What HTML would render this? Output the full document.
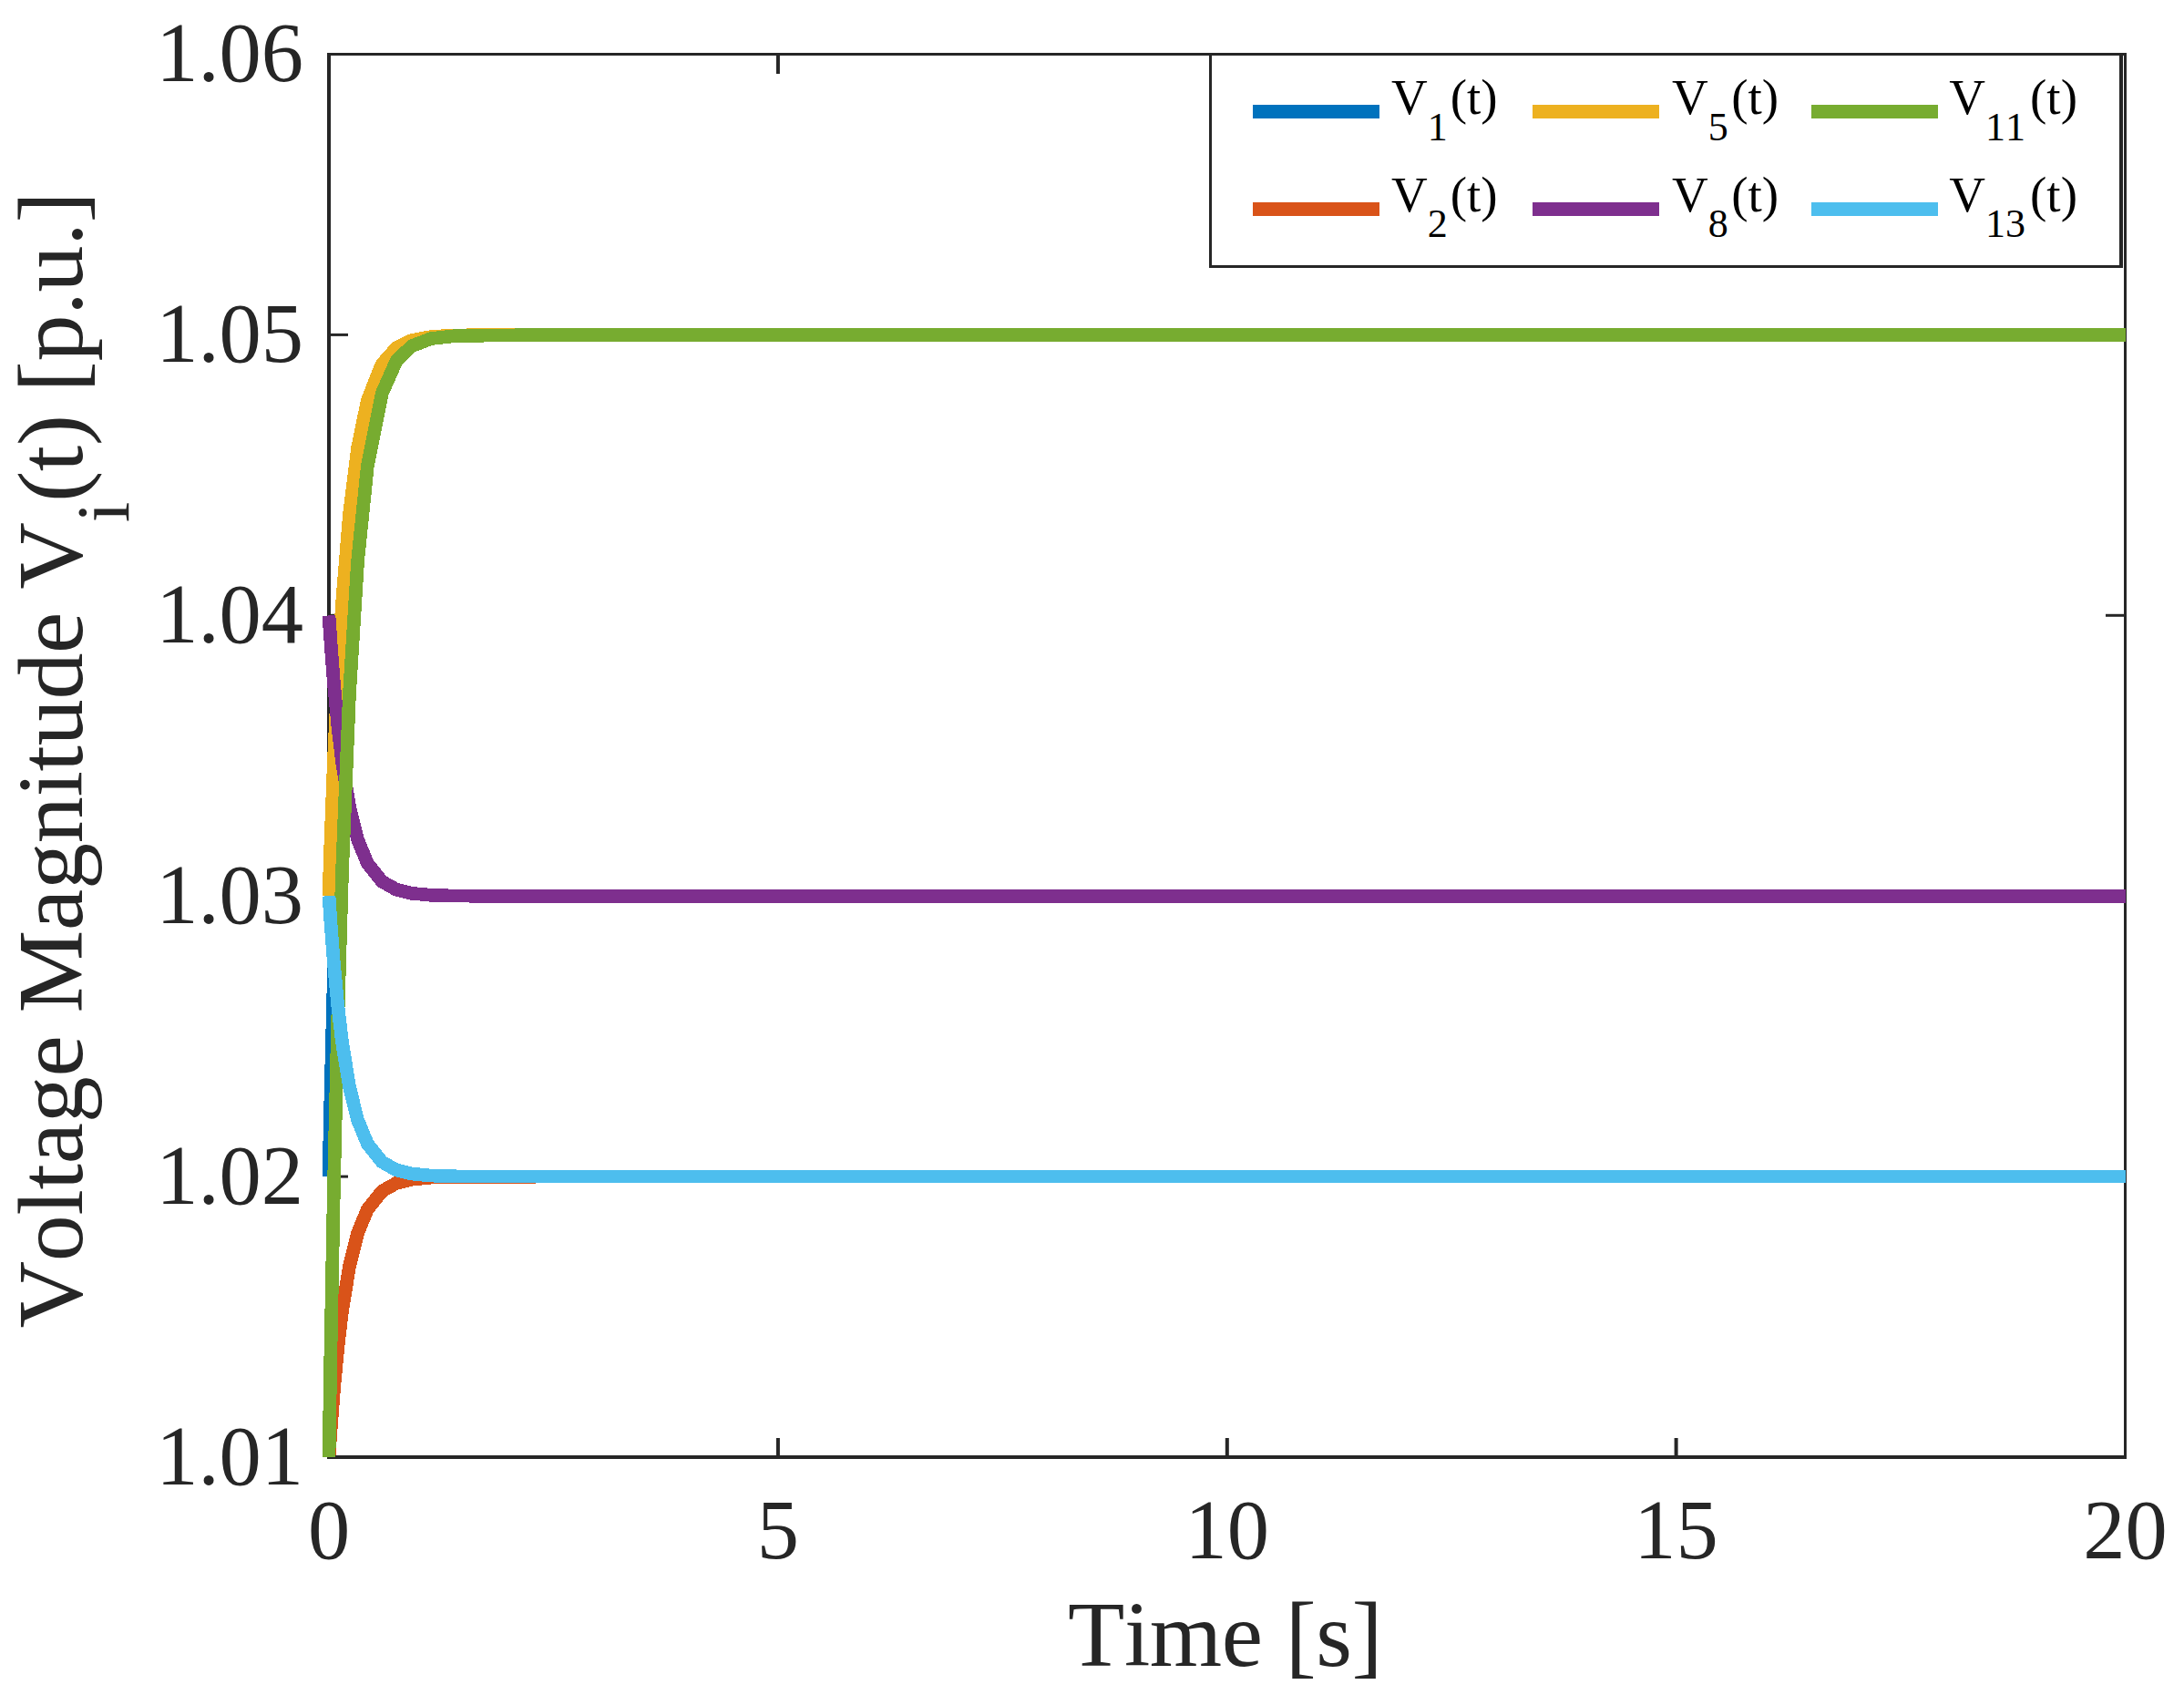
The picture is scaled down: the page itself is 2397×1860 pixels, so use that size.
<!DOCTYPE html>
<html lang="en"><head><meta charset="utf-8"><title>Voltage Magnitude</title>
<style>html,body{margin:0;padding:0;background:#fff;}svg{display:block;}text{font-family:"Liberation Serif",serif;font-kerning:none;font-variant-ligatures:none;white-space:pre;}</style></head><body>
<svg width="2397" height="1860" viewBox="0 0 2397 1860">
<rect x="0" y="0" width="2397" height="1860" fill="#ffffff"/>
<defs><clipPath id="ax"><rect x="340" y="50" width="1993" height="1550"/></clipPath></defs>
<g fill="#262626">
<rect x="359" y="58" width="4" height="1543"/>
<rect x="2331" y="58" width="3" height="1543"/>
<rect x="359" y="58" width="1975" height="3"/>
<rect x="359" y="1597" width="1975" height="4"/>
<rect x="851.9" y="1578" width="4" height="20"/>
<rect x="851.9" y="60" width="4" height="21"/>
<rect x="1344.8" y="1578" width="4" height="20"/>
<rect x="1344.8" y="60" width="4" height="21"/>
<rect x="1837.6" y="1578" width="4" height="20"/>
<rect x="1837.6" y="60" width="4" height="21"/>
<rect x="362" y="1289.6" width="20" height="3"/>
<rect x="2311" y="1289.6" width="21" height="3"/>
<rect x="362" y="981.7" width="20" height="3"/>
<rect x="2311" y="981.7" width="21" height="3"/>
<rect x="362" y="673.8" width="20" height="3"/>
<rect x="2311" y="673.8" width="21" height="3"/>
<rect x="362" y="365.9" width="20" height="3"/>
<rect x="2311" y="365.9" width="21" height="3"/>
</g>
<g clip-path="url(#ax)" fill="none" stroke-width="14.7" stroke-linejoin="round" stroke-linecap="butt" shape-rendering="crispEdges">
<polyline stroke="#0072BD" points="361.00,1291.10 362.97,1203.20 366.42,1069.02 370.86,927.65 375.59,808.11 383.48,662.82 392.54,553.89 403.39,475.00 419.16,415.75 434.93,389.12 451.69,376.68 473.38,370.49 500.98,368.16 617.30,367.40 775.02,367.40 1001.74,367.40 1346.75,367.40 1839.62,367.40 2332.50,367.40"/>
<polyline stroke="#D95319" points="361.00,1599.00 362.97,1569.70 366.42,1524.97 370.86,1477.85 375.59,1438.00 383.48,1389.57 392.54,1353.26 403.39,1326.97 419.16,1307.22 434.93,1298.34 451.69,1294.19 473.38,1292.13 500.98,1291.35 617.30,1291.10 775.02,1291.10 1001.74,1291.10 1346.75,1291.10 1839.62,1291.10 2332.50,1291.10"/>
<polyline stroke="#EDB120" points="361.00,983.20 362.97,924.60 366.42,835.14 370.86,740.90 375.59,661.21 383.48,564.34 392.54,491.73 403.39,439.13 419.16,399.63 434.93,381.88 451.69,373.59 473.38,369.46 500.98,367.91 617.30,367.40 775.02,367.40 1001.74,367.40 1346.75,367.40 1839.62,367.40 2332.50,367.40"/>
<polyline stroke="#7E2F8E" points="361.00,675.47 362.97,704.77 366.42,749.50 370.86,796.62 375.59,836.47 383.48,884.90 392.54,921.21 403.39,947.50 419.16,967.25 434.93,976.13 451.69,980.28 473.38,982.34 500.98,983.12 617.30,983.37 775.02,983.37 1001.74,983.37 1346.75,983.37 1839.62,983.37 2332.50,983.37"/>
<polyline stroke="#77AC30" points="361.00,1599.00 362.97,1481.80 366.42,1302.89 370.86,1114.40 375.59,955.01 383.48,761.29 392.54,616.06 403.39,510.86 419.16,431.86 434.93,396.36 451.69,379.78 473.38,371.52 500.98,368.42 617.30,367.40 775.02,367.40 1001.74,367.40 1346.75,367.40 1839.62,367.40 2332.50,367.40"/>
<polyline stroke="#4DBEEE" points="361.00,983.20 362.97,1012.50 366.42,1057.23 370.86,1104.35 375.59,1144.20 383.48,1192.63 392.54,1228.94 403.39,1255.23 419.16,1274.98 434.93,1283.86 451.69,1288.01 473.38,1290.07 500.98,1290.85 617.30,1291.10 775.02,1291.10 1001.74,1291.10 1346.75,1291.10 1839.62,1291.10 2332.50,1291.10"/>
</g>
<g fill="#262626" font-size="92.5">
<text x="361.0" y="1709.5" text-anchor="middle">0</text>
<text x="853.9" y="1709.5" text-anchor="middle">5</text>
<text x="1346.8" y="1709.5" text-anchor="middle">10</text>
<text x="1839.6" y="1709.5" text-anchor="middle">15</text>
<text x="2332.5" y="1709.5" text-anchor="middle">20</text>
<text x="333" y="1628.5" text-anchor="end">1.01</text>
<text x="333" y="1320.6" text-anchor="end">1.02</text>
<text x="333" y="1012.7" text-anchor="end">1.03</text>
<text x="333" y="704.8" text-anchor="end">1.04</text>
<text x="333" y="396.9" text-anchor="end">1.05</text>
<text x="333" y="89.0" text-anchor="end">1.06</text>
</g>
<g fill="#262626" font-size="102">
<text x="1172" y="1827.5" letter-spacing="-0.4">Time [s]</text>
<text transform="translate(89.5,1457.6) rotate(-90)" letter-spacing="-0.27">Voltage Magnitude V<tspan font-size="81.6" dy="51">i</tspan><tspan dy="-51">(t) [p.u.]</tspan></text>
</g>
<rect x="1327" y="58" width="1003" height="236" fill="#ffffff"/>
<g fill="#262626"><rect x="1327" y="58" width="3" height="236"/><rect x="2326" y="58" width="4" height="236"/><rect x="1327" y="58" width="1003" height="3"/><rect x="1327" y="291" width="1003" height="3"/></g>
<g font-size="55" fill="#000000">
<rect x="1375.0" y="115.0" width="139" height="15" fill="#0072BD"/>
<text x="1527.0" y="125.0">V<tspan font-size="44" dy="29.0">1</tspan><tspan dy="-29.0" dx="3.0">(t)</tspan></text>
<rect x="1375.0" y="222.0" width="139" height="15" fill="#D95319"/>
<text x="1527.0" y="231.5">V<tspan font-size="44" dy="28.5">2</tspan><tspan dy="-28.5" dx="3.0">(t)</tspan></text>
<rect x="1682.0" y="115.0" width="139" height="15" fill="#EDB120"/>
<text x="1835.0" y="125.0">V<tspan font-size="44" dy="29.0">5</tspan><tspan dy="-29.0" dx="3.5">(t)</tspan></text>
<rect x="1682.0" y="222.0" width="139" height="15" fill="#7E2F8E"/>
<text x="1835.0" y="231.5">V<tspan font-size="44" dy="28.5">8</tspan><tspan dy="-28.5" dx="3.5">(t)</tspan></text>
<rect x="1988.0" y="115.0" width="139" height="15" fill="#77AC30"/>
<text x="2139.3" y="125.0">V<tspan font-size="44" dy="29.0">11</tspan><tspan dy="-29.0" dx="5.0">(t)</tspan></text>
<rect x="1988.0" y="222.0" width="139" height="15" fill="#4DBEEE"/>
<text x="2139.3" y="231.5">V<tspan font-size="44" dy="28.5">13</tspan><tspan dy="-28.5" dx="5.0">(t)</tspan></text>
</g>
</svg></body></html>
